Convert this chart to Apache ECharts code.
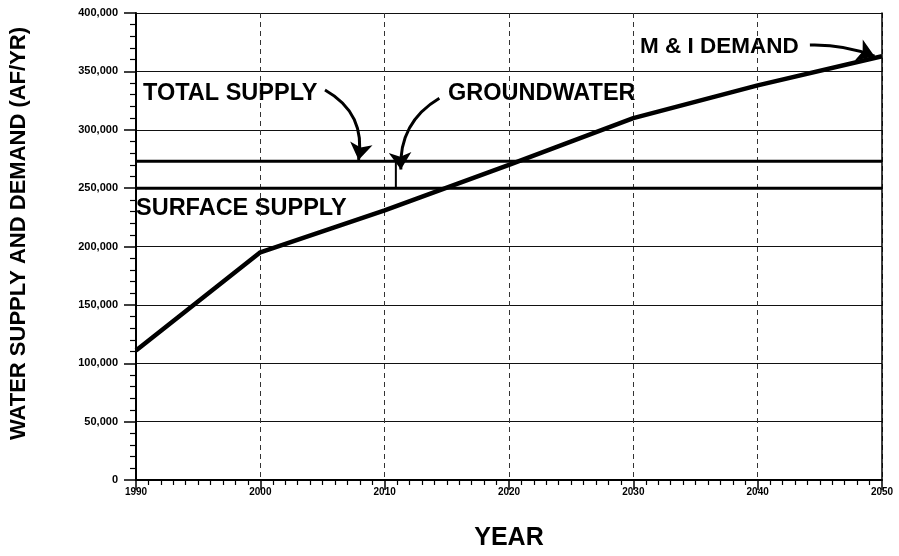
<!DOCTYPE html>
<html>
<head>
<meta charset="utf-8">
<script src="https://cdn.jsdelivr.net/npm/echarts@6/dist/echarts.min.js"></script>
<style>
html,body{margin:0;padding:0;background:#fff;}
#c{width:899px;height:556px;}
</style>
</head>
<body>
<div id="c"></div>
<script>
// ---- data ----
var years = [1990, 2000, 2010, 2020, 2030, 2040, 2050];
var demand = [111000, 195000, 231000, 270000, 310000, 338000, 363000];
var supplyYears = [1990, 2050];
var totalSupply = [273000, 273000];
var surfaceSupply = [250000, 250000];
var groundwaterYear = 2010.9;
var xTicks = [1990, 2000, 2010, 2020, 2030, 2040, 2050];
var yTicks = [0, 50000, 100000, 150000, 200000, 250000, 300000, 350000, 400000];

// annotation arrows (data coordinates)
var arrowTotal = [[2005.2, 334000], [2007.9, 274000]];
var arrowGround = [[2014.4, 327000], [2011.3, 266000]];
var arrowDemand = [[2044.2, 372500], [2049.4, 363000]];

var FONT = 'Liberation Sans, Arial, sans-serif';

var chart = echarts.init(document.getElementById('c'));

function pairs(xs, ys) { return xs.map(function (x, i) { return [x, ys[i]]; }); }

var option = {
  backgroundColor: '#fff',
  animation: false,
  grid: { left: 135, right: 17, top: 13, bottom: 73 },
  xAxis: {
    type: 'value', min: 1990, max: 2050, interval: 10,
    axisLine: { show: true, lineStyle: { color: '#000', width: 2 } },
    axisTick: { show: true, length: 10, inside: false, lineStyle: { color: '#000', width: 1.5 } },
    minorTick: { show: true, splitNumber: 10, length: 5, lineStyle: { color: '#000', width: 1.2 } },
    axisLabel: { color: '#000', fontFamily: FONT, fontWeight: 'bold', fontSize: 10, margin: 7,
      formatter: function (v) { return String(v); } },
    splitLine: { show: true, lineStyle: { color: '#333', width: 1, type: [5, 4] } },
    name: 'YEAR', nameLocation: 'middle', nameGap: 46,
    nameTextStyle: { color: '#000', fontFamily: FONT, fontWeight: 'bold', fontSize: 25 }
  },
  yAxis: [{
    type: 'value', min: 0, max: 400000, interval: 50000,
    axisLine: { show: true, onZero: false, lineStyle: { color: '#000', width: 2 } },
    axisTick: { show: true, length: 12, lineStyle: { color: '#000', width: 1.5 } },
    minorTick: { show: true, splitNumber: 5, length: 6, lineStyle: { color: '#000', width: 1.2 } },
    axisLabel: { color: '#000', fontFamily: FONT, fontWeight: 'bold', fontSize: 11, margin: 18,
      formatter: function (v) { return v.toLocaleString('en-US'); } },
    splitLine: { show: true, lineStyle: { color: '#111', width: 1.2 } },
    name: 'WATER SUPPLY AND DEMAND (AF/YR)', nameLocation: 'middle', nameGap: 106, nameRotate: 90,
    nameTextStyle: { color: '#000', fontFamily: FONT, fontWeight: 'bold', fontSize: 22, padding: [0, 0, 0, 26] }
  }, {
    type: 'value', min: 0, max: 400000, interval: 50000, position: 'right',
    axisLine: { show: true, onZero: false, lineStyle: { color: '#000', width: 1.5 } },
    axisTick: { show: false }, axisLabel: { show: false }, splitLine: { show: false }
  }],
  series: [
    {
      name: 'M & I DEMAND', type: 'line', data: pairs(years, demand), showSymbol: false,
      lineStyle: { color: '#000', width: 4.5 }, z: 5
    },
    {
      name: 'TOTAL SUPPLY', type: 'line', data: pairs(supplyYears, totalSupply), showSymbol: false,
      lineStyle: { color: '#000', width: 3 }, z: 4
    },
    {
      name: 'SURFACE SUPPLY', type: 'line', data: pairs(supplyYears, surfaceSupply), showSymbol: false,
      lineStyle: { color: '#000', width: 3 }, z: 4
    },
    {
      name: 'GROUNDWATER', type: 'line',
      data: [[groundwaterYear, surfaceSupply[0]], [groundwaterYear, totalSupply[0]]],
      showSymbol: false, lineStyle: { color: '#000', width: 2 }, z: 4
    },
    {
      type: 'lines', coordinateSystem: 'cartesian2d', z: 6,
      symbol: ['none', 'arrow'], symbolSize: [0, 17],
      lineStyle: { color: '#000', width: 3, opacity: 1 },
      data: [
        { coords: arrowTotal, lineStyle: { curveness: 0.35 } },
        { coords: arrowGround, lineStyle: { curveness: -0.3 } },
        { coords: arrowDemand, lineStyle: { curveness: 0.1 } }
      ]
    }
  ],
  graphic: [
    { type: 'text', left: 143, top: 82, style: { text: 'TOTAL SUPPLY', fill: '#000', font: 'bold 23.5px ' + FONT } },
    { type: 'text', left: 448, top: 82, style: { text: 'GROUNDWATER', fill: '#000', font: 'bold 23.5px ' + FONT } },
    { type: 'text', left: 136, top: 197, style: { text: 'SURFACE SUPPLY', fill: '#000', font: 'bold 23.5px ' + FONT } },
    { type: 'text', left: 640, top: 35, style: { text: 'M & I DEMAND', fill: '#000', font: 'bold 22.5px ' + FONT } }
  ]
};
chart.setOption(option);
</script>
</body>
</html>
